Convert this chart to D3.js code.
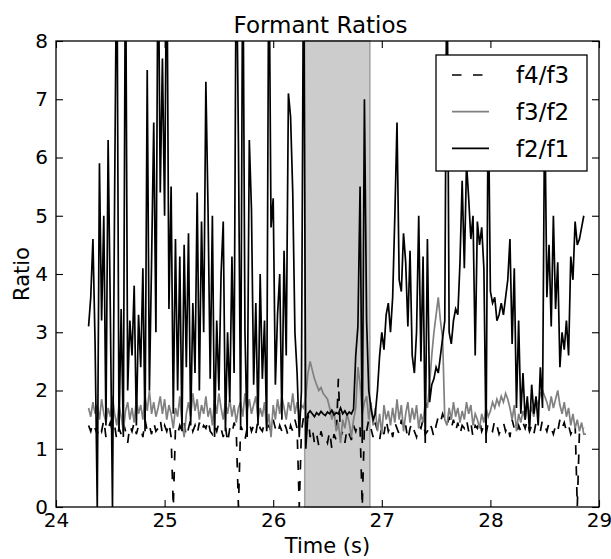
<!DOCTYPE html>
<html>
<head>
<meta charset="utf-8">
<script src="https://cdnjs.cloudflare.com/ajax/libs/d3/7.8.5/d3.min.js"></script>
<style>
body { margin: 0; background: #fff; }
text { font-family: "DejaVu Sans", sans-serif; fill: #000; }
</style>
</head>
<body>
<div id="chart"></div>
<script>
// frames are 20 ms apart, starting at 24.30 s
var frameStart = 24.30, frameStep = 0.02;

var f2f1 = [
  3.1, 3.6, 4.6, 2.8, 0, 5.9, 3.2, 5.0, 1.4, 6.3,
  3.4, 0, 5.4, 10, 1.3, 3.4, 1.2, 10, 2.0, 3.2,
  2.6, 3.8, 1.4, 3.3, 2.4, 4.1, 1.3, 7.5, 2.0, 4.2,
  6.6, 3.0, 10, 5.4, 7.7, 5.0, 10, 3.4, 5.5, 1.6,
  4.6, 2.0, 4.3, 1.3, 4.5, 2.4, 4.7, 1.4, 3.5, 2.3,
  5.4, 2.0, 4.9, 3.0, 7.3, 5.1, 2.2, 5.0, 1.2, 3.2,
  2.0, 4.0, 4.9, 1.3, 3.0, 1.8, 4.3, 2.3, 10, 6.2,
  1.4, 10, 3.0, 1.2, 6.3, 5.1, 2.1, 3.5, 1.4, 4.0,
  2.2, 3.2, 1.3, 10, 4.8, 5.3, 2.1, 3.3, 4.0, 1.5,
  4.4, 2.6, 7.1, 6.7, 5.4, 3.0, 2.3, 1.2, 2.0, 10,
  1.0, 1.6, 1.65, 1.6, 1.55, 1.62, 1.58, 1.64, 1.6, 1.57,
  1.63, 1.6, 1.66, 1.58, 1.62, 1.6, 1.7, 1.6, 1.65, 1.58,
  1.63, 1.6, 1.68, 2.6, 3.1, 5.5, 1.1, 7.0, 3.2, 2.0,
  1.7, 1.5, 1.6, 2.0, 2.6, 3.0, 2.7, 3.3, 3.5, 3.0,
  3.6, 5.0, 6.6, 3.9, 3.7, 4.7, 4.2, 3.1, 4.4, 2.6,
  2.3, 3.0, 5.0, 2.5, 4.3, 1.1, 4.6, 1.8, 2.1, 2.2,
  2.4, 2.3, 2.6, 2.9, 3.2, 10, 3.0, 2.8, 3.2, 3.4,
  3.3, 4.2, 5.6, 4.1, 5.9, 5.3, 4.6, 5.0, 2.6, 4.9,
  4.5, 4.8, 4.1, 1.1, 7.2, 3.7, 3.5, 3.6, 3.2, 3.3,
  3.5, 3.3, 3.6, 3.9, 4.6, 2.8, 4.1, 1.7, 3.2, 1.6,
  2.3, 1.5, 1.9, 1.3, 2.1, 1.6, 1.9, 1.4, 2.4, 1.7,
  7.0, 3.6, 4.5, 3.1, 5.0, 3.4, 4.2, 2.4, 3.0, 2.7,
  3.2, 2.6, 4.3, 3.9, 4.9, 4.5, 4.6, 4.8, 5.0, null
];

var f3f2 = [
  1.7, 1.55, 1.8, 1.6, 1.75, 1.5, 1.85, 1.6, 1.45, 1.7,
  1.55, 1.9, 1.6, 1.4, 1.75, 1.55, 1.3, 1.65, 1.8, 1.5,
  1.7, 1.45, 1.85, 1.6, 1.75, 1.5, 1.9, 1.65, 2.0, 1.6,
  1.8, 1.55, 1.7, 1.9, 1.6, 1.85, 1.5, 1.75, 1.6, 1.35,
  1.7, 1.55, 1.9, 1.45, 1.2, 1.6, 1.8, 1.55, 1.95, 1.65,
  1.85, 1.5, 1.75, 1.6, 1.9, 1.55, 1.7, 1.4, 1.85, 1.6,
  1.95, 1.7, 1.5, 1.8, 1.6, 1.85, 1.55, 1.75, 1.45, 1.7,
  1.8, 1.55, 1.95, 1.65, 1.85, 1.6, 1.75, 1.9, 1.5, 1.7,
  1.55, 1.8, 1.35, 1.6, 1.2, 1.75, 1.5, 1.85, 1.6, 1.9,
  1.7, 1.5, 1.8, 1.65, 1.95, 1.6, 1.8, 1.55, 1.75, 1.7,
  1.9, 2.3, 2.5, 2.35, 2.2, 2.1, 2.0, 2.05, 1.95, 1.9,
  1.85, 1.7, 1.5, 1.65, 1.3, 1.45, 1.1, 1.5, 1.35, 1.6,
  1.45, 1.2, 1.5, 1.7, 2.4, 2.1, 1.6, 1.8, 1.9, 1.5,
  1.8, 1.4, 1.7, 1.3, 1.6, 1.25, 1.75, 1.5, 1.65, 1.4,
  1.7, 1.45, 1.85, 1.5, 1.75, 1.3, 1.6, 1.8, 1.45, 1.7,
  1.5, 1.75, 1.35, 1.6, 1.45, 1.8, 1.7, 2.1, 2.6, 3.0,
  3.3, 3.6, 3.2, 2.9, 1.5, 1.4, 1.7, 1.5, 1.8, 1.55,
  1.7, 1.45, 1.65, 1.5, 1.8, 1.6, 1.75, 1.4, 1.6, 1.5,
  1.35, 1.6, 1.45, 1.7, 1.55, 1.65, 1.8, 1.7, 1.85, 1.75,
  1.9, 1.8, 1.95, 1.85, 1.7, 1.5, 1.75, 1.3, 1.6, 1.45,
  1.65, 1.5, 1.8, 1.6, 1.7, 1.55, 1.85, 1.75, 1.95, 2.0,
  1.9, 1.8, 1.65, 1.9, 1.7, 1.85, 2.0, 1.75, 1.6, 1.8,
  1.55, 1.7, 1.4, 1.6, 1.35, 1.5, 1.3, 1.45, 1.25, 1.25
];

var f4f3 = [
  1.4, 1.3, 1.45, 1.35, 1.25, 1.4, 1.3, 1.5, 1.2, 1.35,
  1.45, 1.3, 1.4, 1.15, 1.35, 1.25, 1.45, 1.3, 1.1, 1.4,
  1.3, 1.45, 1.25, 1.4, 1.35, 1.2, 1.5, 1.3, 1.4, 1.25,
  1.45, 1.3, 1.35, 1.5, 1.25, 1.4, 1.3, 1.45, 1.2, 0,
  1.35, 1.25, 1.4, 1.3, 1.45, 1.2, 1.35, 1.5, 1.3, 1.4,
  1.25, 1.45, 1.3, 1.4, 1.35, 1.5, 1.3, 1.25, 1.4, 1.3,
  1.45, 1.35, 1.2, 1.4, 1.1, 1.35, 1.25, 1.45, 1.3, 0,
  1.4, 1.3, 1.15, 1.35, 1.45, 1.3, 1.4, 1.25, 1.5, 1.35,
  1.3, 1.45, 1.35, 1.4, 1.3, 1.5, 1.35, 1.25, 1.4, 1.3,
  1.45, 1.35, 1.2, 1.4, 1.3, 1.5, 1.35, 0, 1.3, 1.55,
  1.45, 1.6, 1.2, 1.35, 1.1, 1.25, 1.05, 1.3, 1.15, 1.2,
  1.1, 1.3, 1.0, 1.25, 1.15, 2.2, 1.2, 1.3, 1.1, 1.35,
  1.25, 1.15, 1.4, 1.3, 1.45, 1.35, 0, 1.4, 1.3, 1.5,
  1.35, 1.2, 1.45, 1.3, 1.15, 1.4, 1.25, 1.5, 1.3, 1.4,
  1.2, 1.45, 1.35, 1.25, 1.5, 1.3, 1.4, 1.15, 1.35, 1.45,
  1.3, 1.2, 1.4, 1.35, 1.5, 1.25, 1.3, 1.45, 1.35, 1.2,
  1.4, 1.55, 1.45, 1.6, 1.5, 1.4, 1.55, 1.35, 1.5, 1.3,
  1.45, 1.25, 1.4, 1.35, 1.5, 1.3, 1.45, 1.2, 1.4, 1.35,
  1.5, 1.3, 1.4, 1.25, 1.45, 1.35, 1.3, 1.5, 1.4, 1.25,
  1.35, 1.45, 1.3, 1.4, 1.2, 1.5, 1.35, 1.25, 1.4, 1.3,
  1.45, 1.35, 1.5, 1.3, 1.4, 1.25, 1.45, 1.35, 1.3, 1.5,
  1.4, 1.3, 1.45, 1.35, 1.25, 1.4, 1.3, 1.5, 1.35, 1.45,
  1.3, 1.4, 1.25, 1.35, 1.45, 0, 1.3, 1.4, 1.35, null
];

var xTicks = [24, 25, 26, 27, 28, 29];
var yTicks = [0, 1, 2, 3, 4, 5, 6, 7, 8];
var spanStart = 26.29, spanEnd = 26.89;

var series = [
  {name: "f4/f3", values: f4f3, color: "#000", dash: "9.5,11.5"},
  {name: "f3/f2", values: f3f2, color: "#808080", dash: null},
  {name: "f2/f1", values: f2f1, color: "#000", dash: null}
];

var svgWidth = 611, svgHeight = 559;
var plotLeft = 56, plotRight = 599, plotTop = 41, plotBottom = 507;

var svg = d3.select("#chart").append("svg")
    .attr("width", svgWidth)
    .attr("height", svgHeight);

var x = d3.scaleLinear().domain([24, 29]).range([plotLeft, plotRight]);
var y = d3.scaleLinear().domain([0, 8]).range([plotBottom, plotTop]);

svg.append("clipPath").attr("id", "plotclip")
  .append("rect")
    .attr("x", plotLeft).attr("y", plotTop)
    .attr("width", plotRight - plotLeft).attr("height", plotBottom - plotTop);

// shaded interval
svg.append("rect")
    .attr("x", x(spanStart))
    .attr("y", plotTop)
    .attr("width", x(spanEnd) - x(spanStart))
    .attr("height", plotBottom - plotTop)
    .attr("fill", "#cccccc")
    .attr("stroke", "#a0a0a0")
    .attr("stroke-width", 1.5);

var line = d3.line()
    .defined(function(d) { return d != null; })
    .x(function(d, i) { return x(frameStart + i * frameStep); })
    .y(function(d) { return y(d); });

var plot = svg.append("g").attr("clip-path", "url(#plotclip)");

series.forEach(function(s) {
  plot.append("path")
      .datum(s.values)
      .attr("d", line)
      .attr("fill", "none")
      .attr("stroke", s.color)
      .attr("stroke-width", 1.7)
      .attr("stroke-linejoin", "miter")
      .attr("stroke-dasharray", s.dash);
});

// axes with inward ticks on all four sides
var tickFont = "20px";

svg.append("g")
    .attr("transform", "translate(0," + plotBottom + ")")
    .call(d3.axisBottom(x).tickValues(xTicks).tickSize(-7).tickPadding(6).tickFormat(d3.format("d")));
svg.append("g")
    .attr("transform", "translate(0," + plotTop + ")")
    .call(d3.axisTop(x).tickValues(xTicks).tickSize(-7).tickFormat(""));
svg.append("g")
    .attr("transform", "translate(" + plotLeft + ",0)")
    .call(d3.axisLeft(y).tickValues(yTicks).tickSize(-7).tickPadding(8).tickFormat(d3.format("d")));
svg.append("g")
    .attr("transform", "translate(" + plotRight + ",0)")
    .call(d3.axisRight(y).tickValues(yTicks).tickSize(-7).tickFormat(""));

svg.selectAll(".domain").remove();
svg.selectAll(".tick line").attr("stroke", "#000").attr("stroke-width", 1.1);
svg.selectAll(".tick text")
    .style("font-family", "DejaVu Sans")
    .style("font-size", tickFont)
    .attr("fill", "#000");

svg.append("rect")
    .attr("x", plotLeft).attr("y", plotTop)
    .attr("width", plotRight - plotLeft).attr("height", plotBottom - plotTop)
    .attr("fill", "none")
    .attr("stroke", "#000")
    .attr("stroke-width", 1.3);

// title and labels
svg.append("text")
    .attr("x", (plotLeft + plotRight) / 2 - 7)
    .attr("y", 33)
    .attr("text-anchor", "middle")
    .style("font-size", "23px")
    .text("Formant Ratios");

svg.append("text")
    .attr("x", (plotLeft + plotRight) / 2)
    .attr("y", 553)
    .attr("text-anchor", "middle")
    .style("font-size", "21px")
    .text("Time (s)");

svg.append("text")
    .attr("transform", "translate(29," + ((plotTop + plotBottom) / 2) + ") rotate(-90)")
    .attr("text-anchor", "middle")
    .style("font-size", "21px")
    .text("Ratio");

// legend
var legend = svg.append("g");
legend.append("rect")
    .attr("x", 436).attr("y", 55)
    .attr("width", 151).attr("height", 116)
    .attr("fill", "#fff")
    .attr("stroke", "#000")
    .attr("stroke-width", 1.3);

var rows = legend.selectAll("g.row")
    .data(series)
    .enter()
    .append("g")
    .attr("class", "row")
    .attr("transform", function(d, i) { return "translate(0," + (75 + i * 36.7) + ")"; });

rows.append("line")
    .attr("x1", 452).attr("x2", 489)
    .attr("stroke", function(d) { return d.color; })
    .attr("stroke-width", 1.7)
    .attr("stroke-dasharray", function(d) { return d.dash; });

rows.append("text")
    .attr("x", 516)
    .attr("dy", "0.36em")
    .style("font-size", "23px")
    .text(function(d) { return d.name; });
</script>
</body>
</html>
